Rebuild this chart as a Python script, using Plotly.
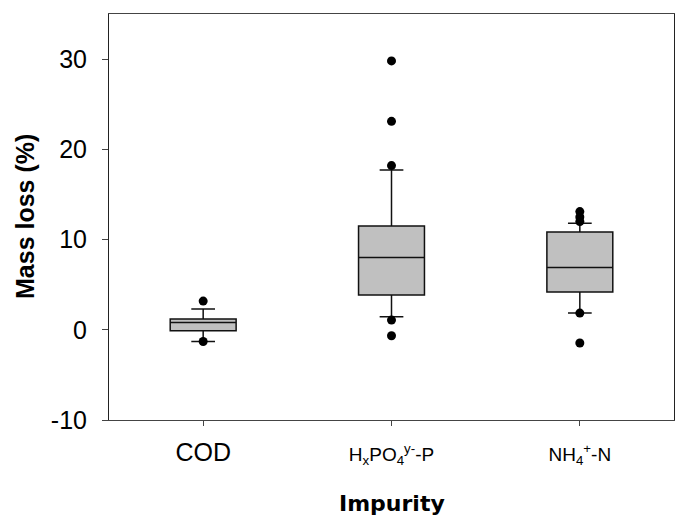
import plotly.graph_objects as go

categories = ["COD", "H<sub>x</sub>PO<sub>4</sub><sup>y-</sup>-P", "NH<sub>4</sub><sup>+</sup>-N"]
cat_pos = [0, 1, 2]
q1 = [-0.1, 3.85, 4.2]
median = [0.8, 8.0, 6.9]
q3 = [1.19, 11.5, 10.83]
lowerfence = [-1.29, 1.45, 1.85]
upperfence = [2.3, 17.7, 11.8]

outlier_cat = [0, 0, 1, 1, 1, 1, 1, 2, 2, 2, 2, 2]
outlier_val = [3.18, -1.3, 29.8, 23.1, 18.2, 1.07, -0.66, 13.1, 12.5, 12.0, 1.85, -1.47]

y_ticks = [-10, 0, 10, 20, 30]
y_tick_text = ["-10", "0", "10", "20", "30"]

tick_text = [
    '<span style="font-size:25px">' + categories[0] + '</span>',
    '<span style="font-size:19px">' + categories[1] + '</span>',
    '<span style="font-size:19px">' + categories[2] + '</span>',
]

fig = go.Figure()
fig.add_trace(go.Box(
    x=cat_pos, q1=q1, median=median, q3=q3,
    lowerfence=lowerfence, upperfence=upperfence,
    boxpoints=False, width=0.35, whiskerwidth=0.36,
    fillcolor="#c0c0c0", line=dict(color="#111111", width=1.5),
    showlegend=False, hoverinfo="skip",
))
fig.add_trace(go.Scatter(
    x=outlier_cat, y=outlier_val, mode="markers",
    marker=dict(color="black", size=9), showlegend=False,
))

fig.update_layout(
    width=675, height=517,
    margin=dict(l=109, r=1, t=14, b=97),
    paper_bgcolor="white", plot_bgcolor="white",
    font=dict(family="Liberation Sans, Arial, sans-serif", color="black"),
    xaxis=dict(
        range=[-0.5, 2.5], tickvals=cat_pos, ticktext=tick_text,
        showgrid=False, zeroline=False, showline=True, linecolor="#444", mirror=True,
        ticks="outside", ticklen=5, tickcolor="#444", tickfont=dict(size=19),
        ticklabelstandoff=12,
    ),
    yaxis=dict(
        range=[-10, 35], tickvals=y_ticks, ticktext=y_tick_text,
        showgrid=False, zeroline=False, showline=True, linecolor="#222", mirror=True,
        ticks="outside", ticklen=6, tickcolor="#444", tickfont=dict(size=25),
        ticklabelstandoff=10,
    ),
    annotations=[
        dict(text="<b>Mass loss (%)</b>", xref="paper", yref="paper", x=0, y=0.5,
             xanchor="center", yanchor="middle", xshift=-84, textangle=-90,
             showarrow=False, font=dict(size=25, family="Liberation Sans, Arial")),
        dict(text="<b>Impurity</b>", xref="paper", yref="paper", x=0.5, y=0,
             xanchor="center", yanchor="middle", yshift=-83,
             showarrow=False, font=dict(size=22, family="DejaVu Sans")),
    ],
)

fig.write_html("out.html")
